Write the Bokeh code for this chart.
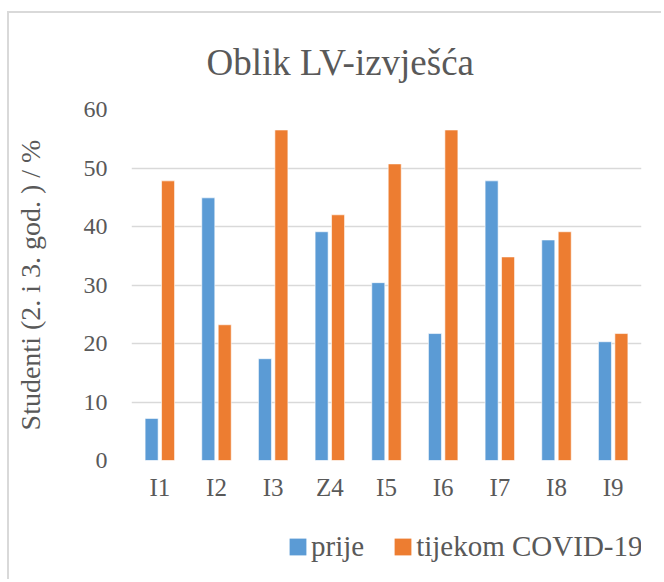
from bokeh.plotting import figure
from bokeh.layouts import column
from bokeh.models import ColumnDataSource, Range1d, FixedTicker, Legend, LegendItem, Title
from bokeh.transform import dodge
from bokeh.embed import file_html
from bokeh.resources import INLINE

categories = ["I1", "I2", "I3", "Z4", "I5", "I6", "I7", "I8", "I9"]
prije = [7.2, 44.9, 17.4, 39.1, 30.4, 21.7, 47.8, 37.7, 20.3]
tijekom = [47.8, 23.2, 56.5, 42.0, 50.7, 56.5, 34.8, 39.1, 21.7]
y_ticks = [0, 10, 20, 30, 40, 50, 60]
title_text = "Oblik LV-izvješća"
y_label = "Studenti (2. i 3. god. ) / %"
series_names = ["prije", "tijekom COVID-19"]

FONT = "Liberation Serif"
TXT = "#595959"
GRID = "#d9d9d9"
BLUE = "#5B9BD5"
ORANGE = "#ED7D31"

src = ColumnDataSource(dict(cat=categories, prije=prije, tijekom=tijekom))

# ---------------- main chart ----------------
p = figure(x_range=categories, y_range=Range1d(0, 60), width=654, height=490,
           output_backend="svg", toolbar_location=None,
           min_border_left=122, min_border_right=22, min_border_top=96, min_border_bottom=41)
p.margin = (11, 0, 0, 7)
p.styles = {"border-top": "2px solid #d9d9d9", "border-left": "2px solid #d9d9d9"}
p.outline_line_color = None
p.background_fill_color = "white"
p.border_fill_color = "white"

p.vbar(x=dodge("cat", -0.145, range=p.x_range), top="prije", width=0.23, source=src,
       fill_color=BLUE, line_color="white", line_width=0.6)
p.vbar(x=dodge("cat", 0.145, range=p.x_range), top="tijekom", width=0.23, source=src,
       fill_color=ORANGE, line_color="white", line_width=0.6)

p.add_layout(Title(text=title_text, align="left", offset=75, standoff=53,
                   text_font=FONT, text_font_size="37px", text_color=TXT,
                   text_font_style="normal"), "above")

p.xgrid.grid_line_color = None
p.ygrid.grid_line_color = GRID
p.ygrid.grid_line_width = 1.5
p.ygrid.ticker = FixedTicker(ticks=y_ticks)

ax = p.yaxis[0]
ax.ticker = FixedTicker(ticks=y_ticks)
ax.axis_line_color = None
ax.major_tick_line_color = None
ax.minor_tick_line_color = None
ax.major_label_text_font = FONT
ax.major_label_text_font_size = "24px"
ax.major_label_text_color = TXT
ax.major_label_standoff = 18
ax.axis_label = y_label
ax.axis_label_text_font = FONT
ax.axis_label_text_font_size = "28px"
ax.axis_label_text_font_style = "normal"
ax.axis_label_text_color = TXT
ax.axis_label_standoff = 35

xa = p.xaxis[0]
xa.axis_line_color = None
xa.major_tick_line_color = None
xa.major_label_text_font = FONT
xa.major_label_text_font_size = "25px"
xa.major_label_text_color = TXT
xa.major_label_standoff = 7

# ---------------- legend strip below the chart ----------------
p2 = figure(x_range=categories, y_range=Range1d(100, 200), width=654, height=78,
            output_backend="svg", toolbar_location=None,
            x_axis_type=None, y_axis_type=None,
            min_border_left=0, min_border_right=0, min_border_top=0, min_border_bottom=0)
p2.margin = (0, 0, 0, 7)
p2.styles = {"border-left": "2px solid #d9d9d9"}
p2.outline_line_color = None
p2.background_fill_color = "white"
p2.border_fill_color = "white"

l1 = p2.vbar(x=dodge("cat", -0.145, range=p2.x_range), top="prije", width=0.23, source=src,
             fill_color=BLUE, line_color=None)
l2 = p2.vbar(x=dodge("cat", 0.145, range=p2.x_range), top="tijekom", width=0.23, source=src,
             fill_color=ORANGE, line_color=None)

legend = Legend(items=[LegendItem(label=series_names[0], renderers=[l1]),
                       LegendItem(label=series_names[1], renderers=[l2])],
                orientation="horizontal", location=(156, 16),
                padding=0, margin=0, spacing=28, label_standoff=3,
                glyph_width=21, glyph_height=21,
                label_text_font=FONT, label_text_font_size="29px", label_text_color=TXT,
                border_line_color=None, background_fill_alpha=0)
p2.add_layout(legend, "center")

layout = column(p, p2, spacing=0)

open("out.html", "w").write(file_html(layout, INLINE))
